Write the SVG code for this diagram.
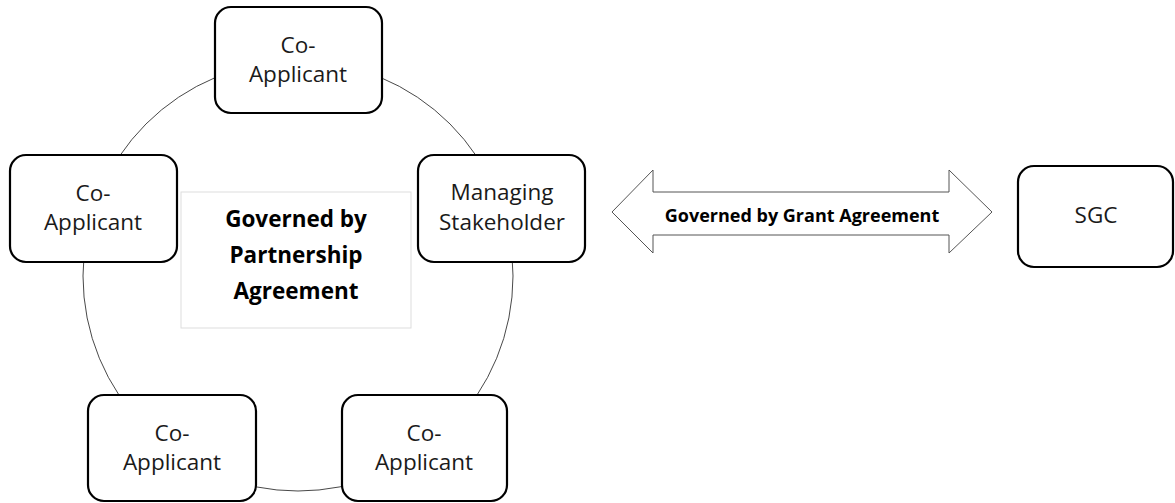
<svg xmlns="http://www.w3.org/2000/svg" width="1175" height="503" viewBox="0 0 1175 503">
<style>
.box{fill:#fff;stroke:#000;stroke-width:2.2}
.t{font-family:"Open Sans","Liberation Sans",sans-serif;font-size:22.5px;fill:#1a1a1a;text-anchor:middle}
.b{font-family:"Open Sans","Liberation Sans",sans-serif;font-weight:bold;fill:#000;text-anchor:middle}
</style>
<rect width="1175" height="503" fill="#fff"/>
<g id="connectors">
<circle cx="298" cy="276" r="215" fill="none" stroke="#333" stroke-width="0.9"/>
<polygon id="grant-arrow" points="612,212 653,170 653,192 949,192 949,170 992,212 949,253 949,235 653,235 653,253" fill="#fff" stroke="#555" stroke-width="1"/>
<text class="b" x="802" y="222" font-size="18">Governed by Grant Agreement</text>
</g>
<g id="partnership">
<rect x="181" y="192" width="230" height="136" fill="#fff" stroke="#ddd" stroke-width="1"/>
<text class="b" font-size="22.5" x="296"><tspan x="296" y="227">Governed by</tspan><tspan x="296" y="263">Partnership</tspan><tspan x="296" y="299">Agreement</tspan></text>
</g>
<g id="co-applicant-top">
<rect class="box" x="215" y="7" width="167" height="106" rx="16"/>
<text class="t"><tspan x="298" y="53">Co-</tspan><tspan x="298" y="82">Applicant</tspan></text>
</g>
<g id="co-applicant-left">
<rect class="box" x="10" y="155" width="167" height="107" rx="16"/>
<text class="t"><tspan x="93" y="201">Co-</tspan><tspan x="93" y="230">Applicant</tspan></text>
</g>
<g id="managing-stakeholder">
<rect class="box" x="418" y="155" width="167" height="107" rx="16"/>
<text class="t"><tspan x="502" y="200">Managing</tspan><tspan x="502" y="230">Stakeholder</tspan></text>
</g>
<g id="co-applicant-bottom-left">
<rect class="box" x="88" y="395" width="168" height="106" rx="16"/>
<text class="t"><tspan x="172" y="441">Co-</tspan><tspan x="172" y="470">Applicant</tspan></text>
</g>
<g id="co-applicant-bottom-right">
<rect class="box" x="342" y="395" width="165" height="106" rx="16"/>
<text class="t"><tspan x="424" y="441">Co-</tspan><tspan x="424" y="470">Applicant</tspan></text>
</g>
<g id="sgc">
<rect class="box" x="1018" y="166" width="155" height="101" rx="16"/>
<text class="t" x="1096" y="223">SGC</text>
</g>
</svg>
